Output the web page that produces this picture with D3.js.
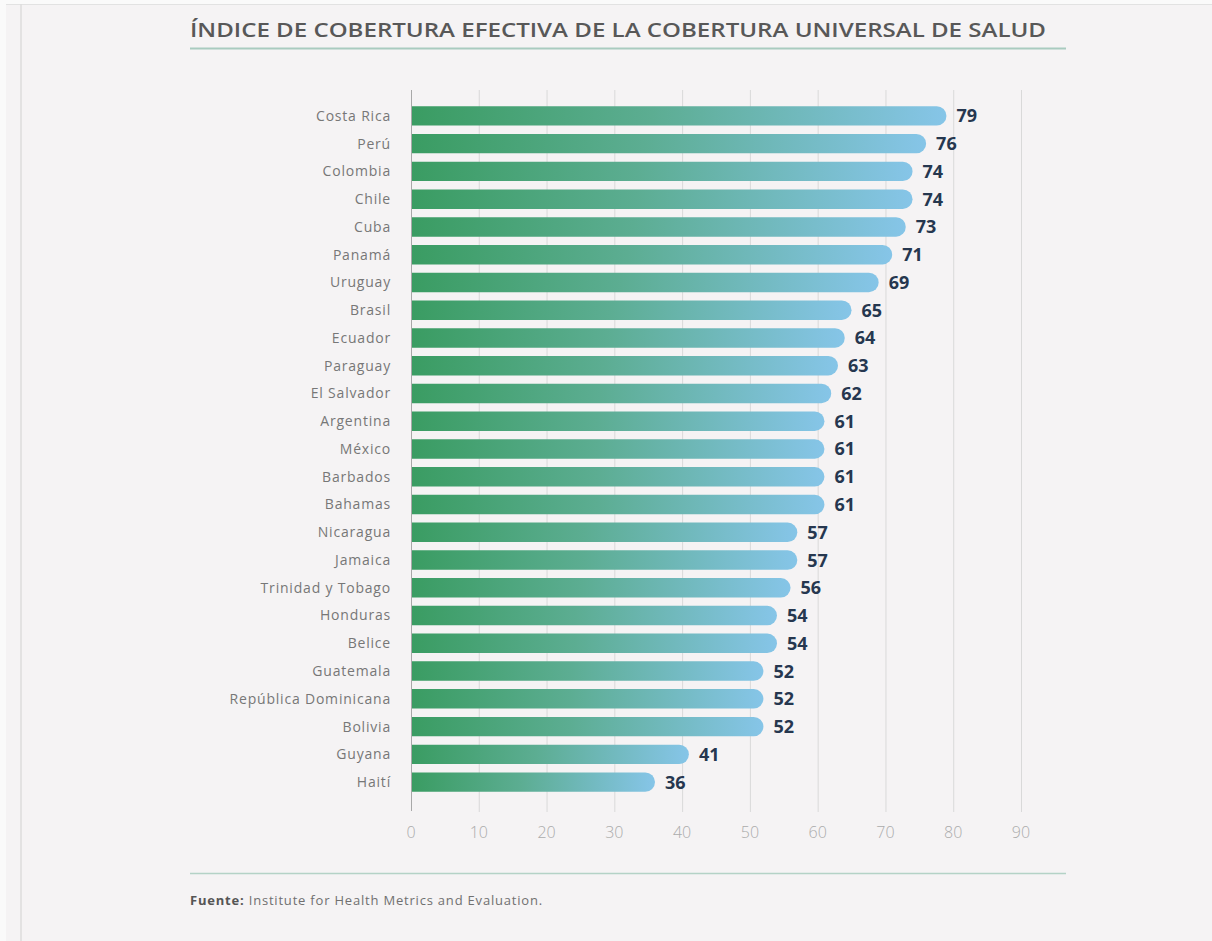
<!DOCTYPE html>
<html>
<head>
<meta charset="utf-8">
<script src="https://cdn.jsdelivr.net/npm/d3@7"></script>
<style>
  html, body { margin: 0; padding: 0; background: #fafafa; }
  svg { display: block; }
</style>
</head>
<body>
<div id="chart"></div>
<script>
// data
const countries = ["Costa Rica", "Perú", "Colombia", "Chile", "Cuba", "Panamá", "Uruguay", "Brasil",
  "Ecuador", "Paraguay", "El Salvador", "Argentina", "México", "Barbados", "Bahamas", "Nicaragua",
  "Jamaica", "Trinidad y Tobago", "Honduras", "Belice", "Guatemala", "República Dominicana",
  "Bolivia", "Guyana", "Haití"];
const values = [79, 76, 74, 74, 73, 71, 69, 65, 64, 63, 62, 61, 61, 61, 61, 57, 57, 56, 54, 54, 52, 52, 52, 41, 36];
const ticks = [0, 10, 20, 30, 40, 50, 60, 70, 80, 90];

const W = 1212, H = 941;
const svg = d3.select("#chart").append("svg")
  .attr("width", W).attr("height", H);

// page panel
svg.append("rect").attr("x", 6).attr("y", 4).attr("width", W - 6).attr("height", H - 4).attr("fill", "#f5f3f4");
svg.append("line").attr("x1", 6).attr("x2", W).attr("y1", 4.5).attr("y2", 4.5).attr("stroke", "#e2e2e2");
svg.append("line").attr("x1", 21).attr("x2", 21).attr("y1", 4).attr("y2", H).attr("stroke", "#dcdcdc").attr("stroke-width", 1.5);

// title
svg.append("text")
  .attr("x", 190).attr("y", 37)
  .attr("font-family", "'Open Sans', sans-serif")
  .attr("font-size", 20).attr("font-weight", 600)
  .attr("fill", "#585858")
  .attr("textLength", 856).attr("lengthAdjust", "spacingAndGlyphs")
  .text("ÍNDICE DE COBERTURA EFECTIVA DE LA COBERTURA UNIVERSAL DE SALUD");
svg.append("line").attr("x1", 190).attr("x2", 1066).attr("y1", 48.5).attr("y2", 48.5)
  .attr("stroke", "#a9cbbf").attr("stroke-width", 2);

// scales
const x = d3.scaleLinear().domain([0, 90]).range([411, 1021]);
const y = d3.scaleBand().domain(countries).range([102, 796]).paddingInner(0.3).paddingOuter(0.15);

const defs = svg.append("defs");
const grad = defs.append("linearGradient").attr("id", "barGrad")
  .attr("x1", "0%").attr("x2", "100%").attr("y1", "0%").attr("y2", "0%");
grad.append("stop").attr("offset", "0%").attr("stop-color", "#3a9c62");
grad.append("stop").attr("offset", "45%").attr("stop-color", "#5cad92");
grad.append("stop").attr("offset", "100%").attr("stop-color", "#86c5e8");

// grid
svg.append("g").selectAll("line").data(ticks.slice(1)).join("line")
  .attr("x1", d => x(d) + 0.5).attr("x2", d => x(d) + 0.5)
  .attr("y1", 90).attr("y2", 812)
  .attr("stroke", "#d9d9d9").attr("stroke-width", 1);

// bars with rounded right end
const r = y.bandwidth() / 2;
svg.append("g").selectAll("path").data(values).join("path")
  .attr("d", (d, i) => {
    const x0 = x(0), x1 = x(d), y0 = y(countries[i]), h = y.bandwidth();
    return `M${x0},${y0}H${x1 - r}A${r},${r} 0 0 1 ${x1 - r},${y0 + h}H${x0}Z`;
  })
  .attr("fill", "url(#barGrad)");

// left axis line
svg.append("line").attr("x1", 411.5).attr("x2", 411.5).attr("y1", 90).attr("y2", 811)
  .attr("stroke", "#a8a8a8").attr("stroke-width", 1);

// country labels
svg.append("g").selectAll("text").data(countries).join("text")
  .attr("x", 391).attr("y", d => y(d) + y.bandwidth() / 2)
  .attr("dy", "0.35em").attr("text-anchor", "end")
  .attr("font-family", "'Open Sans', sans-serif").attr("font-size", 14)
  .attr("letter-spacing", 0.8)
  .attr("fill", "#777")
  .text(d => d);

// value labels
svg.append("g").selectAll("text").data(values).join("text")
  .attr("x", d => x(d) + 10).attr("y", (d, i) => y(countries[i]) + y.bandwidth() / 2)
  .attr("dy", "0.36em")
  .attr("font-family", "'Open Sans', sans-serif").attr("font-size", 18).attr("font-weight", 700)
  .attr("fill", "#26374f")
  .text(d => d);

// x axis tick labels
svg.append("g").selectAll("text").data(ticks).join("text")
  .attr("x", d => x(d)).attr("y", 838).attr("text-anchor", "middle")
  .attr("font-family", "'Open Sans', sans-serif").attr("font-size", 16).attr("font-weight", 300)
  .attr("fill", "#ababab")
  .text(d => d);

// footer
svg.append("line").attr("x1", 190).attr("x2", 1066).attr("y1", 873.5).attr("y2", 873.5)
  .attr("stroke", "#b4d2c6").attr("stroke-width", 1.5);
const src = svg.append("text").attr("x", 190).attr("y", 905)
  .attr("font-family", "'Open Sans', sans-serif").attr("font-size", 13)
  .attr("letter-spacing", 0.8).attr("fill", "#707070");
src.append("tspan").attr("font-weight", 700).attr("fill", "#555").text("Fuente:");
src.append("tspan").text(" Institute for Health Metrics and Evaluation.");
</script>
</body>
</html>
